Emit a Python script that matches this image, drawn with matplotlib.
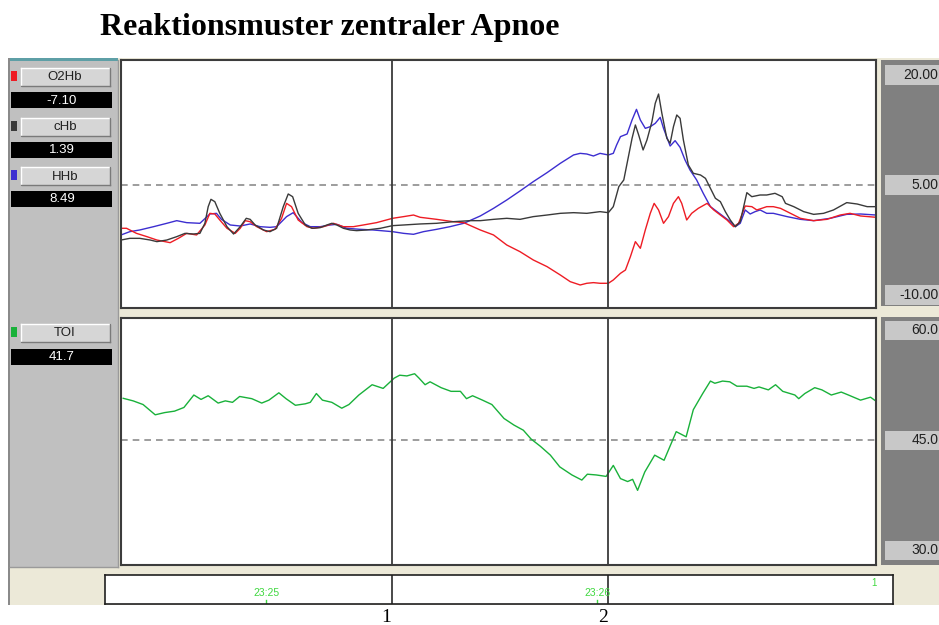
import matplotlib
matplotlib.use("Agg")
import matplotlib.pyplot as plt
from matplotlib.patches import Rectangle
from matplotlib.lines import Line2D
import matplotlib.transforms as mtransforms

# ---------------------------------------------------------------------------
# Data (time in seconds from the left edge of the trace window)
# ---------------------------------------------------------------------------
t_chb = [0.0, 1.6, 3.4, 5.3, 6.5, 8.3, 10.1, 11.6, 13.1, 14.3, 15.2, 15.8, 16.3, 17.0,
         17.9, 19.2, 20.4, 21.6, 22.7, 23.4, 24.3, 25.8, 27.0, 28.2, 29.4, 30.3, 31.1,
         32.1, 33.4, 34.6, 36.1, 37.3, 38.2, 39.1, 40.3, 41.5, 42.7, 44.5, 47.0, 49.2,
         51.2, 54.2, 57.2, 60.2, 63.3, 65.1, 67.5, 69.9, 72.3, 74.7, 77.2, 79.6, 82.0,
         84.4, 86.8, 88.3, 89.2, 90.2, 91.1, 92.0, 92.6, 93.2, 93.8, 94.6, 95.3, 96.2,
         96.8, 97.4, 98.0, 98.9, 99.5, 100.1, 100.7, 101.3, 101.9, 102.8, 103.7, 105.0,
         105.9, 106.8, 107.7, 108.6, 109.5, 110.4, 111.3, 112.2, 113.4, 114.3, 115.8,
         117.0, 118.5, 119.8, 120.4, 121.9, 123.7, 125.5, 127.3, 129.1, 131.5, 133.4,
         135.2, 136.8]
chb = [-2.5, -2.27, -2.27, -2.5, -2.72, -2.5, -2.04, -1.59, -1.68, -1.59, -0.22, 2.05,
       3.05, 2.73, 1.14, -0.68, -1.68, -0.68, 0.46, 0.32, -0.45, -1.13, -1.36, -0.9, 2.05,
       3.78, 3.41, 1.14, -0.45, -0.9, -0.81, -0.45, -0.22, -0.45, -0.9, -1.13, -1.22,
       -1.13, -0.9, -0.54, -0.45, -0.31, -0.22, 0.0, 0.14, 0.14, 0.32, 0.46, 0.32, 0.69,
       0.91, 1.14, 1.23, 1.14, 1.37, 1.23, 2.05, 4.78, 5.69, 9.1, 11.37, 13.19, 11.82,
       9.78, 11.14, 13.64, 16.14, 17.41, 14.78, 11.37, 10.69, 12.96, 14.55, 14.1, 11.14,
       7.73, 6.6, 6.37, 5.91, 4.55, 3.19, 2.73, 1.37, 0.23, -0.68, 0.0, 3.96, 3.41, 3.64,
       3.64, 3.87, 3.41, 2.5, 2.05, 1.37, 1.0, 1.14, 1.6, 2.6, 2.41, 2.05, 2.05]

t_o2hb = [0.0, 1.0, 2.8, 4.7, 6.5, 8.9, 10.4, 11.9, 13.7, 15.2, 16.1, 17.0, 17.9, 19.2,
          20.7, 21.6, 22.5, 23.4, 24.6, 26.4, 27.9, 29.1, 30.0, 30.9, 32.1, 33.7, 34.9,
          36.7, 38.5, 40.3, 42.1, 43.9, 46.3, 49.2, 51.2, 53.0, 54.2, 57.2, 60.2, 62.1,
          65.1, 67.5, 69.9, 72.3, 74.7, 77.2, 79.6, 81.4, 83.2, 84.4, 85.6, 86.8, 88.3,
          89.2, 90.5, 91.4, 92.3, 93.2, 94.1, 95.0, 95.9, 96.6, 97.4, 98.3, 99.2, 100.1,
          101.0, 101.6, 102.5, 103.4, 104.6, 106.2, 107.4, 108.6, 109.8, 111.0, 111.9,
          113.1, 114.3, 115.2, 116.1, 117.0, 118.2, 119.5, 121.3, 123.1, 125.5, 127.9,
          130.3, 132.1, 134.0, 136.8]
o2hb = [-0.9, -0.9, -1.59, -2.04, -2.5, -2.86, -2.27, -1.59, -1.81, -0.45, 1.14, 1.05,
        0.23, -0.9, -1.59, -0.9, 0.14, 0.0, -0.68, -1.36, -1.04, 0.46, 2.5, 2.05, 0.23,
        -0.68, -0.9, -0.68, -0.22, -0.68, -0.68, -0.45, -0.13, 0.46, 0.69, 0.91, 0.6, 0.32,
        0.0, -0.13, -1.13, -1.81, -3.18, -4.09, -5.22, -6.13, -7.27, -8.18, -8.63, -8.4,
        -8.31, -8.4, -8.4, -7.95, -7.04, -6.59, -4.77, -2.72, -3.63, -1.13, 1.14, 2.5, 1.6,
        -0.22, 0.69, 2.5, 3.41, 2.5, 0.23, 1.14, 1.82, 2.5, 1.6, 0.91, 0.23, -0.68, -0.22,
        2.14, 2.05, 1.6, 1.82, 2.05, 2.05, 1.82, 1.14, 0.46, 0.14, 0.32, 0.91, 1.14, 0.78,
        0.6]

t_hhb = [0.0, 1.6, 3.4, 5.9, 8.3, 10.1, 11.9, 14.3, 16.1, 17.3, 18.2, 19.8, 21.6, 23.4,
         25.2, 27.0, 28.2, 30.0, 31.2, 32.8, 34.3, 36.1, 37.9, 39.1, 40.9, 43.3, 45.7,
         49.2, 51.2, 53.0, 54.8, 57.2, 59.6, 62.1, 65.1, 67.5, 69.9, 72.3, 74.7, 77.2,
         79.6, 82.0, 83.2, 84.4, 85.6, 86.8, 88.3, 89.2, 89.8, 90.5, 91.7, 92.6, 93.4,
         94.1, 95.0, 95.9, 96.8, 97.7, 98.3, 99.5, 100.4, 101.3, 102.2, 103.1, 104.3,
         105.5, 106.8, 108.0, 109.2, 110.4, 111.3, 112.2, 113.1, 114.0, 114.9, 115.8,
         117.0, 118.2, 120.7, 123.1, 125.5, 128.5, 131.5, 134.0, 136.8]
hhb = [-1.81, -1.36, -1.13, -0.68, -0.22, 0.14, -0.13, -0.22, 1.05, 1.14, 0.32, -0.45,
       -0.59, -0.31, -0.68, -0.77, -0.68, 0.69, 1.23, -0.13, -0.68, -0.68, -0.45, -0.36,
       -0.9, -1.04, -1.13, -1.36, -1.59, -1.72, -1.36, -1.04, -0.68, -0.22, 0.78, 1.82,
       2.96, 4.19, 5.46, 6.69, 7.96, 9.1, 9.32, 9.23, 8.96, 9.32, 9.1, 9.32, 10.46, 11.6,
       11.96, 13.87, 15.32, 13.87, 12.73, 12.96, 13.41, 14.23, 12.73, 10.32, 11.05, 10.14,
       8.41, 7.05, 5.69, 3.87, 2.05, 1.37, 0.69, 0.0, -0.68, -0.22, 1.6, 1.05, 1.37, 1.6,
       1.14, 1.14, 0.69, 0.32, 0.14, 0.46, 1.0, 1.05, 0.91]

t_toi = [0.4, 2.2, 4.0, 6.2, 7.9, 9.7, 11.4, 13.2, 14.5, 15.8, 17.6, 18.9, 20.2, 21.5,
         23.7, 25.5, 26.8, 28.6, 29.9, 31.6, 33.4, 34.3, 35.4, 36.5, 38.2, 40.0, 41.3,
         43.1, 45.5, 47.5, 49.5, 50.5, 51.8, 53.2, 54.0, 55.1, 56.0, 58.0, 59.8, 61.5,
         62.6, 63.7, 65.5, 67.2, 69.4, 71.2, 72.9, 74.3, 76.0, 77.8, 79.5, 81.7, 83.5,
         84.5, 86.1, 87.9, 89.2, 90.5, 91.8, 92.7, 93.6, 94.9, 96.7, 98.4, 100.6, 102.4,
         103.7, 105.4, 106.8, 107.6, 109.0, 110.3, 111.6, 113.4, 114.7, 115.6, 117.3,
         118.6, 119.9, 122.1, 122.8, 123.9, 125.7, 127.0, 128.7, 130.5, 131.8, 134.0,
         135.8, 137.1]
toi = [50.75, 50.4, 49.9, 48.5, 48.8, 49.0, 49.5, 51.2, 50.6, 51.1, 50.1, 50.4, 50.2,
       51.0, 50.7, 50.1, 50.5, 51.5, 50.7, 49.8, 50.0, 50.2, 51.4, 50.5, 50.2, 49.4, 49.9,
       51.2, 52.6, 52.1, 53.5, 53.9, 53.8, 54.1, 53.5, 52.6, 53.0, 52.2, 51.7, 51.7, 50.7,
       51.1, 50.5, 49.9, 48.0, 47.1, 46.4, 45.2, 44.2, 43.0, 41.4, 40.3, 39.6, 40.4, 40.3,
       40.1, 41.6, 39.8, 39.4, 39.7, 38.2, 40.7, 43.0, 42.3, 46.2, 45.5, 49.2, 51.4, 53.1,
       52.8, 53.1, 53.0, 52.4, 52.4, 52.1, 52.3, 51.9, 52.6, 51.7, 51.2, 50.7, 51.4, 52.2,
       51.9, 51.2, 51.6, 51.2, 50.5, 50.9, 50.2]

channel_names = ["O2Hb", "cHb", "HHb"]
channel_readouts = ["-7.10", "1.39", "8.49"]
channel_colors = ["#ee1c24", "#3a3a3a", "#3c2ed0"]
toi_name, toi_readout, toi_color = "TOI", "41.7", "#19b13a"

top_scale_values = [20.0, 5.0, -10.0]
top_scale_labels = ["20.00", "5.00", "-10.00"]
bottom_scale_values = [60.0, 45.0, 30.0]
bottom_scale_labels = ["60.0", "45.0", "30.0"]

time_tick_t = [26.3, 86.3]
time_tick_labels = ["23:25", "23:26"]
event_t = [49.1, 88.3]
event_labels = ["1", "2"]

T_SPAN = 136.8          # seconds visible in the trace window
TOP_REF, BOTTOM_REF = 5.0, 45.0

# ---------------------------------------------------------------------------
W, H = 939, 625
fig = plt.figure(figsize=(W / 100, H / 100), dpi=100)
fig.patch.set_facecolor("white")


def px_rect(x0, y0, x1, y1):
    return [x0 / W, 1 - y1 / H, (x1 - x0) / W, (y1 - y0) / H]


# Background layer in pixel units (window chrome)
bg = fig.add_axes([0, 0, 1, 1], zorder=0)
bg.set_xlim(0, W)
bg.set_ylim(H, 0)
bg.axis("off")

bg.add_patch(Rectangle((8, 58), W - 8, 547, color="#ece9d8", lw=0))
bg.add_patch(Rectangle((10, 60), 108, 507, color="#c0c0c0", lw=0))
bg.add_patch(Rectangle((8, 58), 2, 547, color="#8a8a8a", lw=0))
bg.add_patch(Rectangle((10, 58), 108, 2.5, color="#5e9fa6", lw=0))
bg.add_line(Line2D([118, 118], [60, 567], color="#9a9a9a", lw=1))
bg.add_line(Line2D([10, 118], [567, 567], color="#9a9a9a", lw=1))
# dark scale panels on the right
bg.add_patch(Rectangle((881, 60), 60, 246, color="#808080", lw=0))
bg.add_patch(Rectangle((881, 317), 60, 248, color="#808080", lw=0))

FONT_UI = ["Liberation Sans", "DejaVu Sans"]


def draw_channel(y, name, value, color, gap=24):
    bg.add_patch(Rectangle((11, y + 3), 6, 10, color=color, lw=0))
    bg.add_patch(Rectangle((21, y), 89, 18, facecolor="#d6d6d6", lw=0))
    bg.add_line(Line2D([21, 110], [y, y], color="white", lw=1))
    bg.add_line(Line2D([21, 21], [y, y + 18], color="white", lw=1))
    bg.add_line(Line2D([21, 110], [y + 18, y + 18], color="#7a7a7a", lw=1))
    bg.add_line(Line2D([110, 110], [y, y + 18], color="#7a7a7a", lw=1))
    bg.text(65, y + 9.5, name, ha="center", va="center", fontsize=9.5,
            family=FONT_UI, color="#202020")
    bg.add_patch(Rectangle((11, y + gap), 101, 16, color="black", lw=0))
    bg.text(62, y + gap + 8.5, value, ha="center", va="center", fontsize=9.5,
            family=FONT_UI, color="white")


for i, (nm, val, col) in enumerate(zip(channel_names, channel_readouts, channel_colors)):
    draw_channel(68 + 49.5 * i, nm, val, col)
draw_channel(324, toi_name, toi_readout, toi_color, gap=25)

# Title
fig.text(330 / W, 1 - 35 / H, "Reaktionsmuster zentraler Apnoe", ha="center",
         va="baseline", fontsize=23, fontweight="bold",
         family=["Liberation Serif", "DejaVu Serif"])


def style_trace_axes(ax):
    ax.set_facecolor("white")
    ax.set_xticks([])
    ax.set_yticks([])
    for s in ax.spines.values():
        s.set_color("#3c3c3c")
        s.set_linewidth(1.5)


EVENT_STYLE = dict(color="#3a3a3a", lw=1.3)

# Haemoglobin traces
ax1 = fig.add_axes(px_rect(121, 60, 876, 308), zorder=2)
style_trace_axes(ax1)
ax1.set_xlim(0, T_SPAN)
ax1.set_ylim(-11.77, 22.05)
ax1.axhline(TOP_REF, color="#8c8c8c", lw=1.2, dashes=(4, 3))
ax1.plot(t_hhb, hhb, color=channel_colors[2], lw=1.0)
ax1.plot(t_o2hb, o2hb, color=channel_colors[0], lw=1.0)
ax1.plot(t_chb, chb, color=channel_colors[1], lw=1.0)

# Tissue oxygenation index
ax2 = fig.add_axes(px_rect(121, 318, 876, 565), zorder=2)
style_trace_axes(ax2)
ax2.set_xlim(0, T_SPAN)
ax2.set_ylim(28.02, 61.7)
ax2.axhline(BOTTOM_REF, color="#8c8c8c", lw=1.2, dashes=(4, 3))
ax2.plot(t_toi, toi, color=toi_color, lw=1.0)

for ax in (ax1, ax2):
    for t in event_t:
        ax.axvline(t, **EVENT_STYLE)


def scale_panel(rect, ylim, values, labels):
    ax = fig.add_axes(rect, zorder=2)
    ax.set_ylim(*ylim)
    ax.set_xlim(0, 1)
    ax.axis("off")
    tr = mtransforms.blended_transform_factory(ax.transAxes, ax.transData)
    for v, lab in zip(values, labels):
        ax.add_patch(Rectangle((0.07, v - 1.3), 1.0, 2.6, transform=tr,
                               color="#c8c8c8", lw=0, clip_on=False))
        ax.text(0.985, v, lab, transform=tr, ha="right", va="center", fontsize=10,
                family=FONT_UI, color="#202020", clip_on=False)


scale_panel(px_rect(881, 60, 939, 308), (-11.77, 22.05), top_scale_values, top_scale_labels)
scale_panel(px_rect(881, 318, 939, 565), (28.02, 61.7), bottom_scale_values,
            bottom_scale_labels)

# Time axis strip
px_per_s = (876 - 121) / T_SPAN
tb = fig.add_axes(px_rect(105, 575, 893, 604), zorder=2)
tb.set_facecolor("white")
tb.set_xticks([])
tb.set_yticks([])
for s in tb.spines.values():
    s.set_color("#202020")
    s.set_linewidth(1.2)
tb.set_xlim((105 - 121) / px_per_s, (893 - 121) / px_per_s)
tb.set_ylim(0, 1)
for t, lab in zip(time_tick_t, time_tick_labels):
    tb.text(t, 0.38, lab, ha="center", va="center", fontsize=7.5, family=FONT_UI,
            color="#3fd83f")
    tb.plot([t, t], [0.0, 0.14], color="#3fd83f", lw=1)
tb.text(136.5, 0.9, "1", ha="center", va="top", fontsize=7, family=FONT_UI,
        color="#3fd83f")
for t in event_t:
    tb.axvline(t, **EVENT_STYLE)

# Event numbers under the time strip
lab_tr = mtransforms.blended_transform_factory(tb.transData, bg.transData)
for t, lab in zip(event_t, event_labels):
    tb.text(t - 1.0, 617, lab, transform=lab_tr, ha="center", va="center",
            fontsize=14, family=["Liberation Serif", "DejaVu Serif"], color="black",
            clip_on=False)

fig.savefig("out.png", dpi=100, facecolor="white")
